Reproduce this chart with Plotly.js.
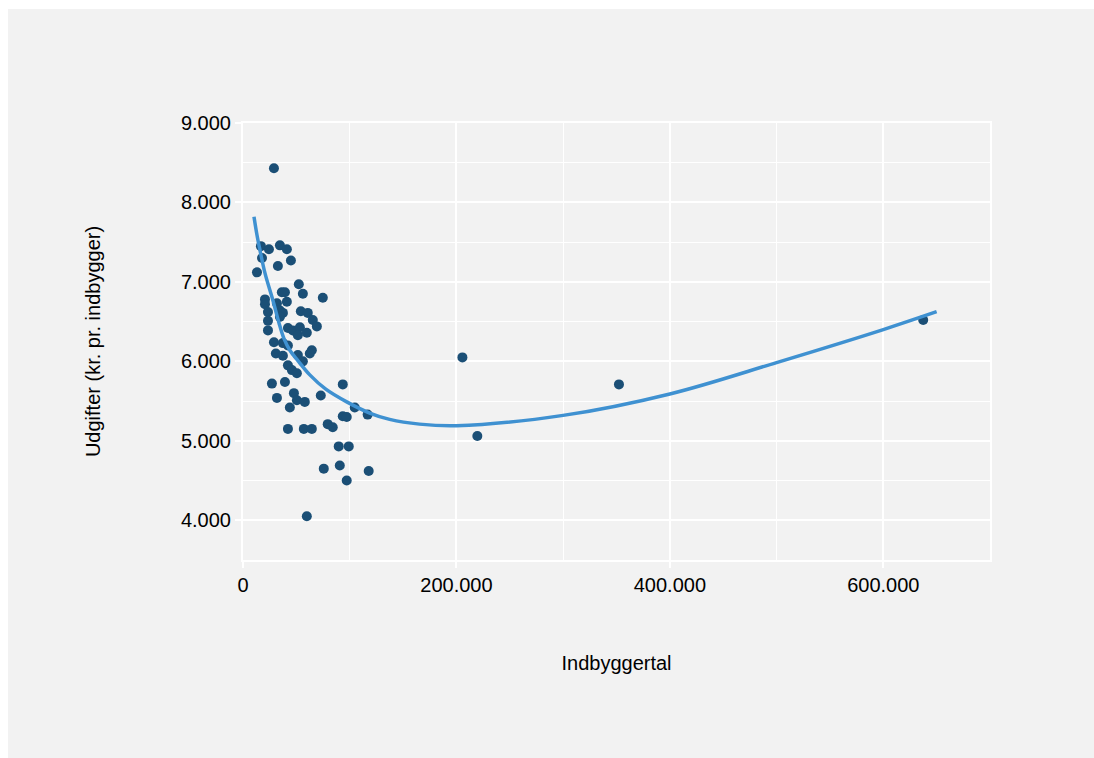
<!DOCTYPE html>
<html>
<head>
<meta charset="utf-8">
<script src="https://cdn.plot.ly/plotly-3.0.1.min.js"></script>
<style>
html, body { margin: 0; padding: 0; overflow: hidden; background: #ffffff; }
#chart { position: absolute; left: 8px; top: 9px; width: 1094px; height: 758px; }
</style>
</head>
<body>
<div id="chart"></div>
<script>
// Municipalities: population (Indbyggertal) and expenses (kr. pr. indbygger)
const population = [
  29000, 16800, 24300, 34600, 41100, 17800, 44900, 32700, 13100, 52300,
  36400, 39300, 56100, 74800, 20600, 20600, 31800, 41100, 34600, 23400,
  37400, 34600, 54200, 60700, 65400, 69200, 23400, 23400, 42100, 46700,
  53300, 51400, 59800, 29000, 37400, 64500, 42100, 30800, 37400, 51400,
  56100, 62600, 42100, 45800, 50500, 27100, 39300, 93500, 31800, 47700,
  72900, 43900, 50500, 57900, 104700, 93500, 97200, 116800, 42100, 57000,
  64500, 79400, 84100, 89700, 99100, 75700, 90700, 97200, 117800, 59800,
  205600, 219600, 352300, 637400
];
const expenses = [
  8430, 7450, 7410, 7460, 7410, 7300, 7270, 7200, 7120, 6970,
  6870, 6870, 6850, 6800, 6780, 6720, 6730, 6750, 6640, 6620,
  6610, 6560, 6630, 6610, 6520, 6440, 6510, 6390, 6420, 6390,
  6430, 6330, 6360, 6240, 6230, 6140, 6200, 6100, 6070, 6080,
  6000, 6100, 5950, 5890, 5850, 5720, 5740, 5710, 5540, 5600,
  5570, 5420, 5510, 5490, 5420, 5310, 5300, 5330, 5150, 5150,
  5150, 5210, 5170, 4930, 4930, 4650, 4690, 4500, 4620, 4050,
  6050, 5060, 5710, 6520
];
// Fitted curve
const fitX = [
  10300, 13100, 15900, 20600, 28000, 33600, 38300, 43900, 51400, 62600,
  77600, 97200, 118700, 137400, 165400, 200000, 300000, 400000, 500000, 600000,
  650000
];
const fitY = [
  7820, 7590, 7400, 7110, 6770, 6490, 6290, 6140, 6010, 5830,
  5650, 5490, 5350, 5270, 5210, 5190, 5320, 5590, 5985, 6400,
  6625
];

const xTitle = 'Indbyggertal';
const yTitle = 'Udgifter (kr. pr. indbygger)';

const traces = [
  {
    x: population, y: expenses, type: 'scatter', mode: 'markers',
    marker: { color: '#1b4f76', size: 10 },
    hoverinfo: 'x+y', showlegend: false
  },
  {
    x: fitX, y: fitY, type: 'scatter', mode: 'lines',
    line: { color: '#3f91d1', width: 3.5, shape: 'spline', smoothing: 1 },
    hoverinfo: 'skip', showlegend: false
  }
];

const axisCommon = {
  showgrid: true, gridcolor: '#ffffff', gridwidth: 2,
  showline: true, linecolor: '#ffffff', linewidth: 2, mirror: true,
  ticks: 'outside', tickcolor: '#ffffff', ticklen: 6, tickwidth: 2,
  tickfont: { family: 'Liberation Sans, Arial, sans-serif', size: 20, color: '#000000' },
  zeroline: false, tickformat: ',d'
};

const layout = {
  width: 1094, height: 758,
  paper_bgcolor: '#f2f2f2', plot_bgcolor: '#f2f2f2',
  separators: ',.',
  margin: { l: 235, r: 112, t: 114, b: 207 },
  font: { family: 'Liberation Sans, Arial, sans-serif', size: 20, color: '#000000' },
  xaxis: Object.assign({}, axisCommon, {
    range: [0, 700000], tickvals: [0, 200000, 400000, 600000],
    minor: { dtick: 100000, tick0: 0, showgrid: true, gridcolor: '#ffffff', gridwidth: 1 },
    title: { text: xTitle, standoff: 61, font: { size: 20, color: '#000000' } }
  }),
  yaxis: Object.assign({}, axisCommon, {
    range: [3500, 9000], tickvals: [4000, 5000, 6000, 7000, 8000, 9000],
    minor: { dtick: 500, tick0: 0, showgrid: true, gridcolor: '#ffffff', gridwidth: 1 },
    title: { text: yTitle, standoff: 75, font: { size: 20, color: '#000000' } }
  })
};

Plotly.newPlot('chart', traces, layout, { displayModeBar: false, staticPlot: true });
</script>
</body>
</html>
